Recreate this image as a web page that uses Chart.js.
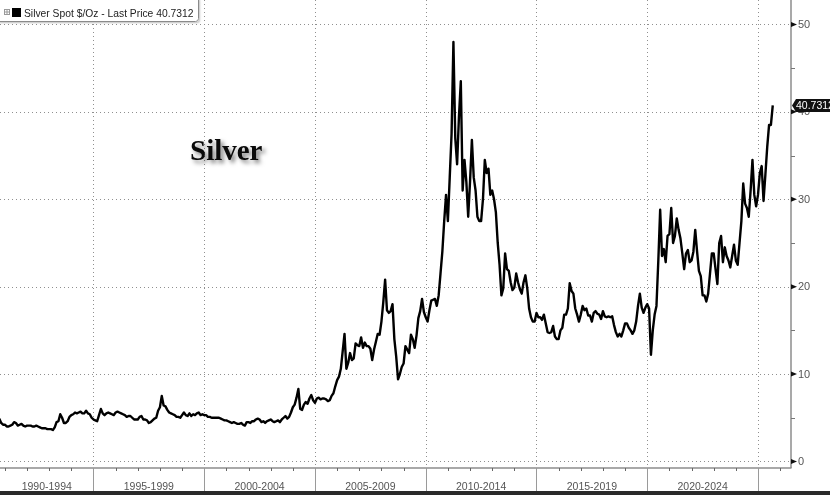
<!DOCTYPE html>
<html>
<head>
<meta charset="utf-8">
<script src="https://cdn.jsdelivr.net/npm/chart.js@4.4.1/dist/chart.umd.min.js"></script>
<style>
  html, body { margin: 0; padding: 0; background: #fff; }
  #wrap { width: 830px; height: 495px; position: relative; }
</style>
</head>
<body>
<div id="wrap"><canvas id="myChart" width="830" height="495"></canvas></div>
<script>
// monthly silver spot, $/oz
const start1990s = 1990 + 9 / 12; // Oct 1990
const prices1990s = [
  4.9, 4.4, 4.2,
  4.2, 4.0, 4.0, 4.1, 4.2, 4.5, 4.4, 4.1, 4.2, 4.3, 4.1, 4.0,
  4.1, 4.1, 4.1, 4.0, 4.0, 4.1, 4.0, 3.9, 3.8, 3.8, 3.8, 3.7,
  3.7, 3.7, 3.6, 3.9, 4.5, 4.6, 5.4, 5.0, 4.4, 4.4, 4.6, 5.1,
  5.3, 5.4, 5.6, 5.5, 5.6, 5.7, 5.5, 5.5, 5.8, 5.5, 5.4, 5.0,
  4.8, 4.7, 4.6, 5.3, 6.0, 5.5, 5.3, 5.5, 5.6, 5.5, 5.4, 5.3,
  5.6, 5.7, 5.6, 5.5, 5.4, 5.3, 5.1, 5.2, 5.2, 5.0, 4.8, 4.8,
  4.8, 5.1, 5.2, 4.8, 4.8, 4.7, 4.4, 4.5, 4.7, 4.9, 5.0, 5.8,
  6.2, 7.5, 6.4, 6.3, 5.9, 5.6, 5.5, 5.4, 5.3, 5.1, 5.1, 5.0,
  5.3, 5.6, 5.3, 5.2, 5.5, 5.2, 5.4, 5.3, 5.5, 5.6, 5.3, 5.4
];
const start2000s = 2000;
const prices2000s = [
  5.3, 5.3, 5.1, 5.1, 5.0, 5.0, 5.0, 5.0, 5.0, 4.9, 4.8, 4.7,
  4.7, 4.6, 4.5, 4.4, 4.5, 4.4, 4.3, 4.3, 4.4, 4.2, 4.1, 4.5,
  4.5, 4.4, 4.6, 4.6, 4.8, 4.9, 4.8, 4.5, 4.6, 4.4, 4.6, 4.7,
  4.8, 4.6, 4.5, 4.6, 4.7, 4.5, 4.8, 5.0, 5.2, 4.9, 5.1, 5.6,
  6.2, 6.5, 7.3, 8.3, 6.0, 5.9, 6.5, 6.8, 6.6, 7.2, 7.6, 7.0,
  6.7, 7.2, 7.3, 7.1, 7.2, 7.2, 7.1, 6.9, 7.0, 7.5, 7.8, 8.6,
  9.3, 9.7, 10.6, 12.6, 14.6, 10.6, 11.3, 12.4, 11.6, 11.8, 13.5, 13.3,
  13.2, 14.2, 13.0, 13.6, 13.2, 13.2, 12.9, 11.6, 12.8, 13.7, 14.6, 14.5,
  16.0, 18.2, 20.8, 17.3, 17.0, 17.2, 18.0, 14.0, 12.0, 9.4, 10.0, 10.8,
  11.2, 13.2, 12.8, 12.4, 14.5, 14.0, 13.0, 14.4, 16.4, 17.2, 18.6, 17.1
];
const start2010s = 2010;
const prices2010s = [
  16.5, 16.0, 17.3, 18.4, 18.5, 18.6, 17.8, 19.0, 21.5, 24.0, 27.5, 30.5,
  27.5, 32.5, 37.5, 48.0, 37.0, 34.0, 39.5, 43.5, 31.0, 34.5, 32.0, 28.0,
  32.0, 36.8, 32.5, 31.0, 28.0, 27.5, 27.5, 30.0, 34.5, 33.0, 33.5, 30.5,
  31.0, 30.0, 28.5, 25.0, 22.5, 19.0, 19.8, 23.8, 22.0, 21.8, 20.5, 19.6,
  19.9, 21.5, 20.5, 19.7, 19.2, 20.5, 21.3, 19.8, 17.5, 16.5, 16.0, 16.0,
  17.0, 16.5, 16.5, 16.2, 16.8, 15.8, 14.8, 14.7, 14.8, 15.5, 14.3, 14.0,
  14.0, 15.0, 15.3, 16.8, 16.8, 17.5, 20.4, 19.5, 19.2, 17.5, 16.8, 16.0,
  16.8, 17.8, 17.3, 17.5, 16.7, 16.7, 16.0, 17.0, 17.2, 16.9, 16.8, 16.3,
  17.2, 16.6, 16.5, 16.6, 16.5, 16.6, 15.6, 14.8, 14.3, 14.6, 14.3, 15.0,
  15.8, 15.8, 15.3, 15.0, 14.6, 15.0, 16.0, 17.8, 19.2, 17.6, 17.0, 17.6
];
const start2020s = 2020;
const prices2020s = [
  18.0, 17.5, 12.2, 15.0, 16.8, 17.8, 23.0, 28.8, 23.5, 24.3, 22.8, 25.8,
  26.0, 29.0, 25.0, 25.8, 27.8, 26.5, 25.5, 23.8, 22.0, 23.8, 24.2, 22.8,
  23.0, 24.0, 26.5, 24.0, 21.8, 21.2, 19.0, 19.0, 18.3, 19.2, 21.5, 23.8,
  23.8, 22.0, 20.3, 25.0, 25.8, 22.8, 24.5, 23.5, 23.0, 22.2, 23.5, 24.8,
  23.0, 22.5, 25.0, 27.5, 31.8, 29.5, 29.0, 28.0, 31.0, 34.5, 30.5, 29.2,
  30.5, 33.0, 33.8, 29.8, 32.8, 36.0, 38.5, 38.5, 40.7312
];

const lastPrice = '40.7312';
const seriesLabel = 'Silver Spot $/Oz - Last Price ' + lastPrice;
const yTicks = [0, 10, 20, 30, 40, 50];
const yMinorTicks = [5, 15, 25, 35, 45];
const periodStarts = [1990, 1995, 2000, 2005, 2010, 2015, 2020, 2025];
const periodLabels = ['1990-1994', '1995-1999', '2000-2004', '2005-2009', '2010-2014', '2015-2019', '2020-2024', ''];

function toPoints(startYear, values) {
  return values.map((v, i) => ({x: startYear + i / 12, y: v}));
}
const points = [].concat(
  toPoints(start1990s, prices1990s),
  toPoints(start2000s, prices2000s),
  toPoints(start2010s, prices2010s),
  toPoints(start2020s, prices2020s)
);

function line(ctx, x1, y1, x2, y2) {
  ctx.beginPath(); ctx.moveTo(x1, y1); ctx.lineTo(x2, y2); ctx.stroke();
}

const decor = {
  id: 'decor',
  beforeDatasetsDraw(chart) {
    const {ctx, chartArea: a, scales: {x, y}} = chart;
    ctx.save();
    ctx.strokeStyle = '#8f8f8f';
    ctx.lineWidth = 1;
    ctx.setLineDash([1, 3]);
    yTicks.forEach(v => {
      const py = Math.round(y.getPixelForValue(v)) + 0.5;
      line(ctx, a.left, py, a.right, py);
    });
    periodStarts.forEach(yr => {
      const px = Math.round(x.getPixelForValue(yr)) + 0.5;
      if (px > a.left) line(ctx, px, a.top, px, a.bottom);
    });
    ctx.restore();
  },
  afterDraw(chart) {
    const {ctx, chartArea: a, scales: {x, y}} = chart;
    ctx.save();
    // axis lines
    ctx.strokeStyle = '#8c8c8c';
    ctx.lineWidth = 1.5;
    line(ctx, a.left, a.bottom, a.right + 0.5, a.bottom);
    line(ctx, a.right, a.top, a.right, a.bottom);

    // year ticks + period separators
    ctx.lineWidth = 1;
    for (let yr = 1991; yr <= 2026; yr++) {
      const px = Math.round(x.getPixelForValue(yr)) + 0.5;
      if (px < a.left || px > a.right) continue;
      if (yr % 5 === 0) {
        ctx.strokeStyle = '#9a9a9a';
        line(ctx, px, a.bottom, px, 491);
      } else {
        ctx.strokeStyle = '#666';
        line(ctx, px, a.bottom, px, a.bottom + 3);
      }
    }

    // period labels centred in visible band
    ctx.fillStyle = '#555';
    ctx.font = '10.5px "Liberation Sans", Arial, sans-serif';
    ctx.textAlign = 'center';
    ctx.textBaseline = 'middle';
    periodStarts.forEach((yr, i) => {
      if (!periodLabels[i]) return;
      const l = Math.max(a.left, x.getPixelForValue(yr));
      const r = Math.min(a.right, x.getPixelForValue(yr + 5));
      ctx.fillText(periodLabels[i], (l + r) / 2, 487);
    });

    // right axis ticks
    ctx.strokeStyle = '#777';
    yMinorTicks.forEach(v => {
      const py = Math.round(y.getPixelForValue(v)) + 0.5;
      line(ctx, a.right, py, a.right + 4, py);
    });
    ctx.fillStyle = '#111';
    yTicks.forEach(v => {
      const py = y.getPixelForValue(v);
      ctx.beginPath();
      ctx.moveTo(a.right, py - 2.5);
      ctx.lineTo(a.right + 6, py);
      ctx.lineTo(a.right, py + 2.5);
      ctx.closePath();
      ctx.fill();
    });
    ctx.fillStyle = '#555';
    ctx.font = '11px "Liberation Sans", Arial, sans-serif';
    ctx.textAlign = 'left';
    yTicks.forEach(v => {
      ctx.fillText(String(v), a.right + 7, y.getPixelForValue(v) + 0.5);
    });

    // last price badge
    const lastY = y.getPixelForValue(prices2020s[prices2020s.length - 1]);
    ctx.fillStyle = '#111';
    ctx.beginPath();
    ctx.moveTo(a.right + 1, lastY);
    ctx.lineTo(a.right + 5, lastY - 6.5);
    ctx.lineTo(832, lastY - 6.5);
    ctx.lineTo(832, lastY + 6.5);
    ctx.lineTo(a.right + 5, lastY + 6.5);
    ctx.closePath();
    ctx.fill();
    ctx.fillStyle = '#fff';
    ctx.font = '10.5px "Liberation Sans", Arial, sans-serif';
    ctx.fillText(lastPrice, a.right + 5, lastY + 0.5);

    // legend box
    ctx.shadowColor = 'rgba(0,0,0,0.25)';
    ctx.shadowBlur = 2;
    ctx.shadowOffsetX = 1;
    ctx.shadowOffsetY = 1;
    ctx.fillStyle = '#fff';
    ctx.beginPath();
    ctx.roundRect(-3, -3, 202, 25, 3);
    ctx.fill();
    ctx.shadowColor = 'transparent';
    ctx.strokeStyle = '#8a8a8a';
    ctx.lineWidth = 1;
    ctx.beginPath();
    ctx.roundRect(-3.5, -3.5, 202, 25, 3);
    ctx.stroke();
    ctx.strokeStyle = '#999';
    ctx.strokeRect(4.5, 9.5, 5, 5);
    line(ctx, 7, 10, 7, 14);
    line(ctx, 5, 12, 9, 12);
    ctx.fillStyle = '#000';
    ctx.fillRect(12, 8, 9, 9);
    ctx.fillStyle = '#222';
    ctx.font = '10.3px "Liberation Sans", Arial, sans-serif';
    ctx.textAlign = 'left';
    ctx.textBaseline = 'alphabetic';
    ctx.fillText(seriesLabel, 24, 16.5);

    // title inside plot
    ctx.font = 'bold 29px "Liberation Serif", "Times New Roman", serif';
    ctx.shadowColor = 'rgba(0,0,0,0.5)';
    ctx.shadowBlur = 4;
    ctx.shadowOffsetX = 3;
    ctx.shadowOffsetY = 3;
    ctx.fillStyle = '#0a0a0a';
    ctx.fillText('Silver', 190, 160);
    ctx.shadowColor = 'transparent';

    // dark strip at the bottom
    ctx.fillStyle = '#2a2a2a';
    ctx.fillRect(0, 491, 830, 4);
    ctx.restore();
  }
};

const config = {
  type: 'line',
  data: {
    datasets: [{
      label: seriesLabel,
      data: points,
      borderColor: '#000',
      borderWidth: 2.4,
      borderJoinStyle: 'round',
      pointRadius: 0,
      tension: 0,
      fill: false
    }]
  },
  options: {
    responsive: false,
    animation: false,
    devicePixelRatio: 1,
    layout: {padding: {left: 0, top: 0, right: 39, bottom: 27}},
    plugins: {legend: {display: false}, tooltip: {enabled: false}},
    scales: {
      x: {type: 'linear', display: false, min: 1990.78, max: 2026.49},
      y: {display: false, min: -0.75, max: 52.8}
    }
  },
  plugins: [decor]
};
var myChart = new Chart(document.getElementById('myChart'), config);
</script>
</body>
</html>
